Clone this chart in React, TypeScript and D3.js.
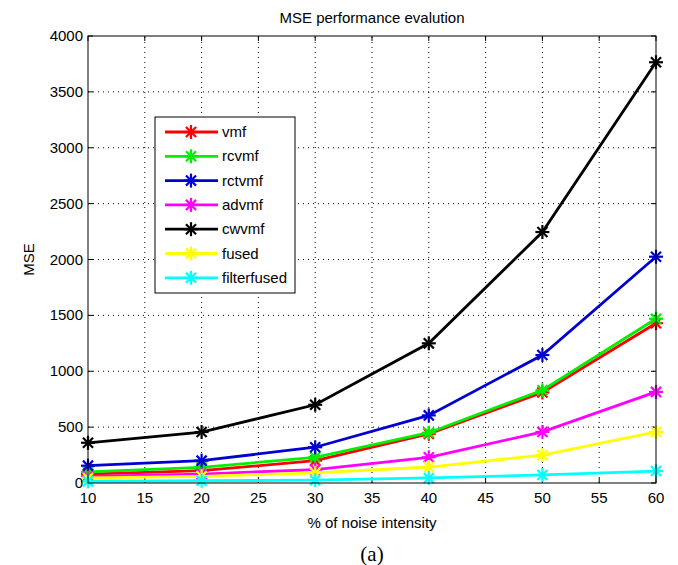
import React from "react";
import * as d3 from "d3";

const width = 678;
const height = 565;
const margin = { top: 36, right: 22, bottom: 82, left: 88 };

const noise = [10, 20, 30, 40, 50, 60];
const xTicks = [10, 15, 20, 25, 30, 35, 40, 45, 50, 55, 60];
const yTicks = [0, 500, 1000, 1500, 2000, 2500, 3000, 3500, 4000];

const seriesNames = ["vmf", "rcvmf", "rctvmf", "advmf", "cwvmf", "fused", "filterfused"];
const seriesColors = ["#ff0000", "#00f000", "#0000d0", "#ff00ff", "#000000", "#ffff00", "#00ffff"];

const vmf = [80, 110, 200, 440, 810, 1430];
const rcvmf = [100, 140, 230, 450, 830, 1470];
const rctvmf = [155, 200, 320, 605, 1145, 2025];
const advmf = [60, 80, 120, 230, 457, 815];
const cwvmf = [360, 456, 700, 1250, 2246, 3765];
const fused = [45, 60, 90, 143, 250, 457];
const filterfused = [15, 20, 25, 45, 72, 107];

const seriesValues = [vmf, rcvmf, rctvmf, advmf, cwvmf, fused, filterfused];

const font = "Liberation Sans, Arial, sans-serif";

// matlab style '*' marker
const Star = ({ x, y, color, r = 7 }: { x: number; y: number; color: string; r?: number }) => {
  const d = r * 0.72;
  return (
    <g stroke={color} strokeWidth={2.2}>
      <line x1={x - r} y1={y} x2={x + r} y2={y} />
      <line x1={x} y1={y - r} x2={x} y2={y + r} />
      <line x1={x - d} y1={y - d} x2={x + d} y2={y + d} />
      <line x1={x - d} y1={y + d} x2={x + d} y2={y - d} />
    </g>
  );
};

export default function App() {
  const x = d3.scaleLinear().domain([10, 60]).range([margin.left, width - margin.right]);
  const y = d3.scaleLinear().domain([0, 4000]).range([height - margin.bottom, margin.top]);
  const line = d3
    .line<number>()
    .x((_, i) => x(noise[i]))
    .y((d) => y(d));

  const x0 = x.range()[0];
  const x1 = x.range()[1];
  const y0 = y.range()[0];
  const y1 = y.range()[1];

  const legend = { x: 155, y: 117, w: 140, h: 176, step: 24.3 };

  return (
    <svg width={width} height={height} style={{ position: "absolute", left: 0, top: 0 }}>
      <rect width={width} height={height} fill="#fff" />
      {/* grid */}
      <g stroke="#000" strokeWidth={1} strokeDasharray="1,4">
        {xTicks.slice(1, -1).map((t) => (
          <line key={"gx" + t} x1={x(t)} x2={x(t)} y1={y0} y2={y1} />
        ))}
        {yTicks.slice(1, -1).map((t) => (
          <line key={"gy" + t} x1={x0} x2={x1} y1={y(t)} y2={y(t)} />
        ))}
      </g>
      {/* ticks */}
      <g stroke="#000" strokeWidth={1}>
        {xTicks.map((t) => (
          <g key={"tx" + t}>
            <line x1={x(t)} x2={x(t)} y1={y0} y2={y0 - 5} />
            <line x1={x(t)} x2={x(t)} y1={y1} y2={y1 + 5} />
          </g>
        ))}
        {yTicks.map((t) => (
          <g key={"ty" + t}>
            <line x1={x0} x2={x0 + 5} y1={y(t)} y2={y(t)} />
            <line x1={x1} x2={x1 - 5} y1={y(t)} y2={y(t)} />
          </g>
        ))}
      </g>
      {/* series */}
      {seriesValues.map((vals, i) => (
        <g key={seriesNames[i]}>
          <path d={line(vals) || ""} fill="none" stroke={seriesColors[i]} strokeWidth={2.8} />
          {vals.map((v, j) => (
            <Star key={j} x={x(noise[j])} y={y(v)} color={seriesColors[i]} />
          ))}
        </g>
      ))}
      <rect x={x0} y={y1} width={x1 - x0} height={y0 - y1} fill="none" stroke="#000" strokeWidth={1} />
      {/* tick labels */}
      <g fontFamily={font} fontSize={15} fill="#000">
        {xTicks.map((t) => (
          <text key={"lx" + t} x={x(t)} y={y0 + 20} textAnchor="middle">
            {t}
          </text>
        ))}
        {yTicks.map((t) => (
          <text key={"ly" + t} x={x0 - 5} y={y(t) + 5} textAnchor="end">
            {t}
          </text>
        ))}
        <text x={(x0 + x1) / 2} y={23} textAnchor="middle">
          MSE performance evalution
        </text>
        <text x={(x0 + x1) / 2} y={y0 + 45} textAnchor="middle">
          % of noise intensity
        </text>
        <text transform={`translate(34, ${(y0 + y1) / 2}) rotate(-90)`} textAnchor="middle">
          MSE
        </text>
      </g>
      <text x={(x0 + x1) / 2} y={y0 + 78} textAnchor="middle" fontFamily="Liberation Serif, Times New Roman, serif" fontSize={21}>
        (a)
      </text>
      {/* legend */}
      <g>
        <rect x={legend.x} y={legend.y} width={legend.w} height={legend.h} fill="#fff" stroke="#000" strokeWidth={1} />
        {seriesNames.map((name, i) => {
          const ly = legend.y + 15 + i * legend.step;
          return (
            <g key={"lg" + name}>
              <line x1={legend.x + 10} x2={legend.x + 63} y1={ly} y2={ly} stroke={seriesColors[i]} strokeWidth={2.8} />
              <Star x={legend.x + 36} y={ly} color={seriesColors[i]} />
              <text x={legend.x + 67} y={ly + 5} fontFamily={font} fontSize={15}>
                {name}
              </text>
            </g>
          );
        })}
      </g>
    </svg>
  );
}
